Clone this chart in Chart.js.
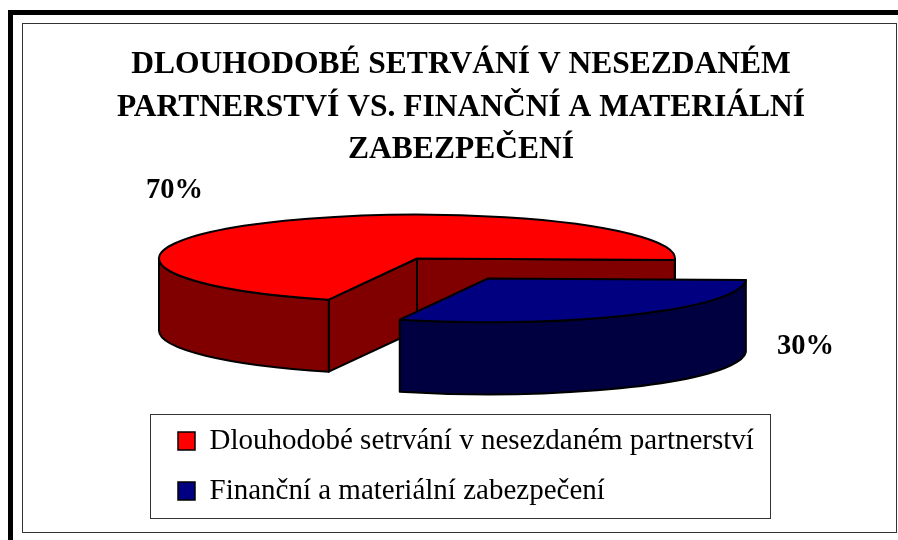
<!DOCTYPE html>
<html><head><meta charset="utf-8">
<script src="https://cdn.jsdelivr.net/npm/chart.js@4"></script>
<style>html,body{margin:0;padding:0;background:#fff}canvas{display:block}</style>
</head><body><canvas id="c" width="898" height="540"></canvas>
<script>
const titleLines = ["DLOUHODOBÉ SETRVÁNÍ V NESEZDANÉM","PARTNERSTVÍ VS. FINANČNÍ A MATERIÁLNÍ","ZABEZPEČENÍ"];
const categories = ["Dlouhodobé setrvání v nesezdaném partnerství","Finanční a materiální zabezpečení"];
const shares = [70, 30];
const topColors = ["#FF0000","#000080"];
const wallColors = ["#800000","#000040"];

const FONT = '"Liberation Serif","Times New Roman",serif';
const view = {cx:417, cy:258.5, squash:0.17, depth:72, explode:[{x:0,y:0},{x:71,y:20}],
  labels:[{x:146,y:198},{x:777,y:354}]};

const pie3d = {
  id:'pie3d',
  beforeDraw(chart){
    const c = chart.ctx;
    c.save();
    c.fillStyle='#000';
    c.fillRect(8,10,890,5);
    c.fillRect(8,10,5,530);
    c.strokeStyle='#333'; c.lineWidth=1;
    c.strokeRect(22.5,23.5,874,509);
    c.strokeRect(150.5,414.5,620,104);
    c.restore();
  },
  afterLayout(chart){
    const l = chart.legend;
    l.left = 157; l.right = 770; l.top = 405.5; l.bottom = 540;
  },
  beforeDatasetDraw(chart, args){
    const c = chart.ctx, arcs = args.meta.data;
    const geo = arcs.map((a,i)=>({a,i,r:a.outerRadius,s:a.startAngle,e:a.endAngle,
      x:view.cx+view.explode[i].x,y:view.cy+view.explode[i].y}));
    const k = view.squash, d = view.depth, TAU = Math.PI*2;
    c.save();
    c.lineWidth = 2; c.strokeStyle = '#000'; c.lineJoin='round';
    const pt = (g,t)=>[g.x+g.r*Math.cos(t), g.y+g.r*k*Math.sin(t)];
    const face = (g,t)=>{
      const p = pt(g,t);
      c.beginPath(); c.moveTo(g.x,g.y); c.lineTo(p[0],p[1]); c.lineTo(p[0],p[1]+d); c.lineTo(g.x,g.y+d); c.closePath();
      c.fillStyle = wallColors[g.i]; c.fill(); c.stroke();
    };
    const wall = (g,t0,t1)=>{
      c.beginPath();
      c.ellipse(g.x,g.y,g.r,g.r*k,0,t0,t1,false);
      c.ellipse(g.x,g.y+d,g.r,g.r*k,0,t1,t0,true);
      c.closePath();
      c.fillStyle = wallColors[g.i]; c.fill(); c.stroke();
    };
    geo.forEach(g=>{
      if (Math.cos(g.e) > 0) face(g,g.e);
      if (Math.cos(g.s) < 0) face(g,g.s);
      for (let n=0;n<2;n++){
        const t0=Math.max(g.s,n*TAU), t1=Math.min(g.e,n*TAU+Math.PI);
        if (t1>t0) wall(g,t0,t1);
      }
      c.save();
      c.translate(g.x,g.y); c.scale(1,k); c.translate(-g.a.x,-g.a.y);
      g.a.draw(c);
      c.restore();
      c.beginPath();
      c.moveTo(g.x,g.y);
      c.ellipse(g.x,g.y,g.r,g.r*k,0,g.s,g.e,false);
      c.closePath();
      c.stroke();
    });
    c.restore();
    return false;
  },
  afterDraw(chart){
    const c = chart.ctx;
    c.save();
    c.fillStyle='#000'; c.font='bold 28.5px '+FONT; c.textBaseline='alphabetic'; c.textAlign='left';
    shares.forEach((v,i)=>c.fillText(v+'%',view.labels[i].x,view.labels[i].y));
    c.restore();
  }
};

new Chart(document.getElementById('c'),{
  type:'pie',
  data:{labels:categories,datasets:[{data:shares,backgroundColor:topColors,borderWidth:0,clip:false}]},
  options:{
    responsive:false,animation:false,rotation:200,radius:258,
    layout:{padding:{left:24,top:44}},
    plugins:{
      title:{display:true,text:titleLines,color:'#000',padding:0,
        font:{family:FONT,size:31.5,weight:'bold',lineHeight:1.35}},
      tooltip:{enabled:false},
      legend:{display:true,position:'left',align:'start',
        labels:{color:'#000',boxWidth:17,boxHeight:18,padding:21,font:{family:FONT,size:29},
          generateLabels(chart){
            return Chart.overrides.pie.plugins.legend.labels.generateLabels(chart).map(o=>({...o,strokeStyle:'#000',lineWidth:1.5}));
          }}}
    }
  },
  plugins:[pie3d]
});
</script></body></html>
